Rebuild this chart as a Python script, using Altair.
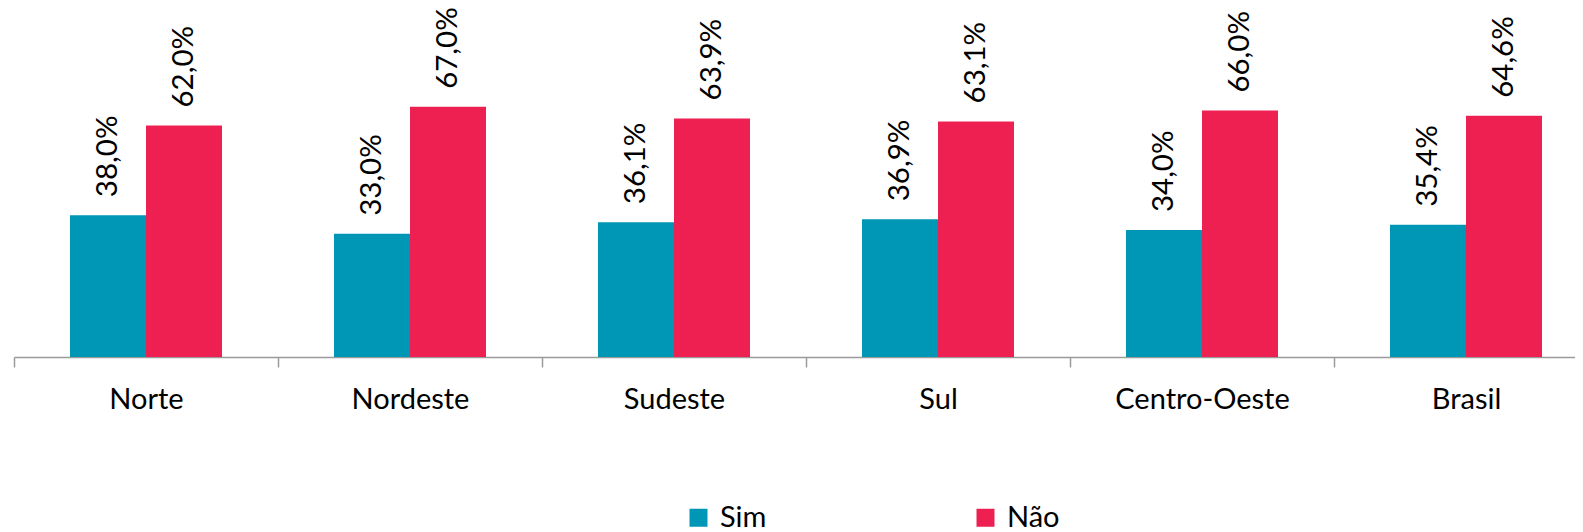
import altair as alt
import pandas as pd

regioes = ["Norte", "Nordeste", "Sudeste", "Sul", "Centro-Oeste", "Brasil"]
sim = [38.0, 33.0, 36.1, 36.9, 34.0, 35.4]
nao = [62.0, 67.0, 63.9, 63.1, 66.0, 64.6]
series = ["Sim", "Não"]
cores = ["#0096B6", "#EE2052"]

rows = []
for r, s, n in zip(regioes, sim, nao):
    rows.append({"regiao": r, "resposta": "Sim", "valor": s})
    rows.append({"regiao": r, "resposta": "Não", "valor": n})
df = pd.DataFrame(rows)

FONT = "Lato"

x = alt.X(
    "regiao:N", sort=regioes, title=None,
    scale=alt.Scale(paddingInner=0, paddingOuter=0),
    axis=alt.Axis(labelAngle=0, tickBand="extent", domainColor="#9B9B9B",
                  tickColor="#9B9B9B", tickSize=10, domainWidth=1.5, tickWidth=1.5,
                  labelFontSize=29, labelFont=FONT, labelColor="#000000",
                  labelPadding=18),
)
xo = alt.XOffset("resposta:N", sort=series,
                 scale=alt.Scale(paddingInner=0, paddingOuter=0.737))
y = alt.Y("valor:Q", scale=alt.Scale(domain=[0, 90]), axis=None)
color = alt.Color(
    "resposta:N", sort=series,
    scale=alt.Scale(domain=series, range=cores),
    legend=alt.Legend(title=None, orient="none", legendX=670, legendY=482,
                      direction="horizontal", symbolType="square", symbolSize=324,
                      symbolStrokeWidth=0, symbolOpacity=1,
                      labelFontSize=29, labelFont=FONT, labelColor="#000000",
                      labelOffset=7, columnPadding=204),
)

base = alt.Chart(df).transform_calculate(
    rotulo="replace(format(datum.valor / 100, '.1%'), '.', ',')"
)

bars = base.mark_bar().encode(x=x, xOffset=xo, y=y, color=color)
labels = base.mark_text(angle=270, align="left", baseline="middle", dx=18,
                        fontSize=29.5, font=FONT, color="#000000").encode(
    x=x, xOffset=xo, y=y, text="rotulo:N")

# the reference is cropped at the right edge: the plot is 1584 px wide,
# but the drawing surface stops inside the window (negative right padding)
chart = (bars + labels).properties(
    width=1584, height=336,
    autosize=alt.AutoSizeParams(type="none"),
    padding={"left": 6, "top": 13, "right": -23, "bottom": 175},
).configure_view(stroke=None)

chart.save("out.html", embed_options={"renderer": "svg", "actions": False})
